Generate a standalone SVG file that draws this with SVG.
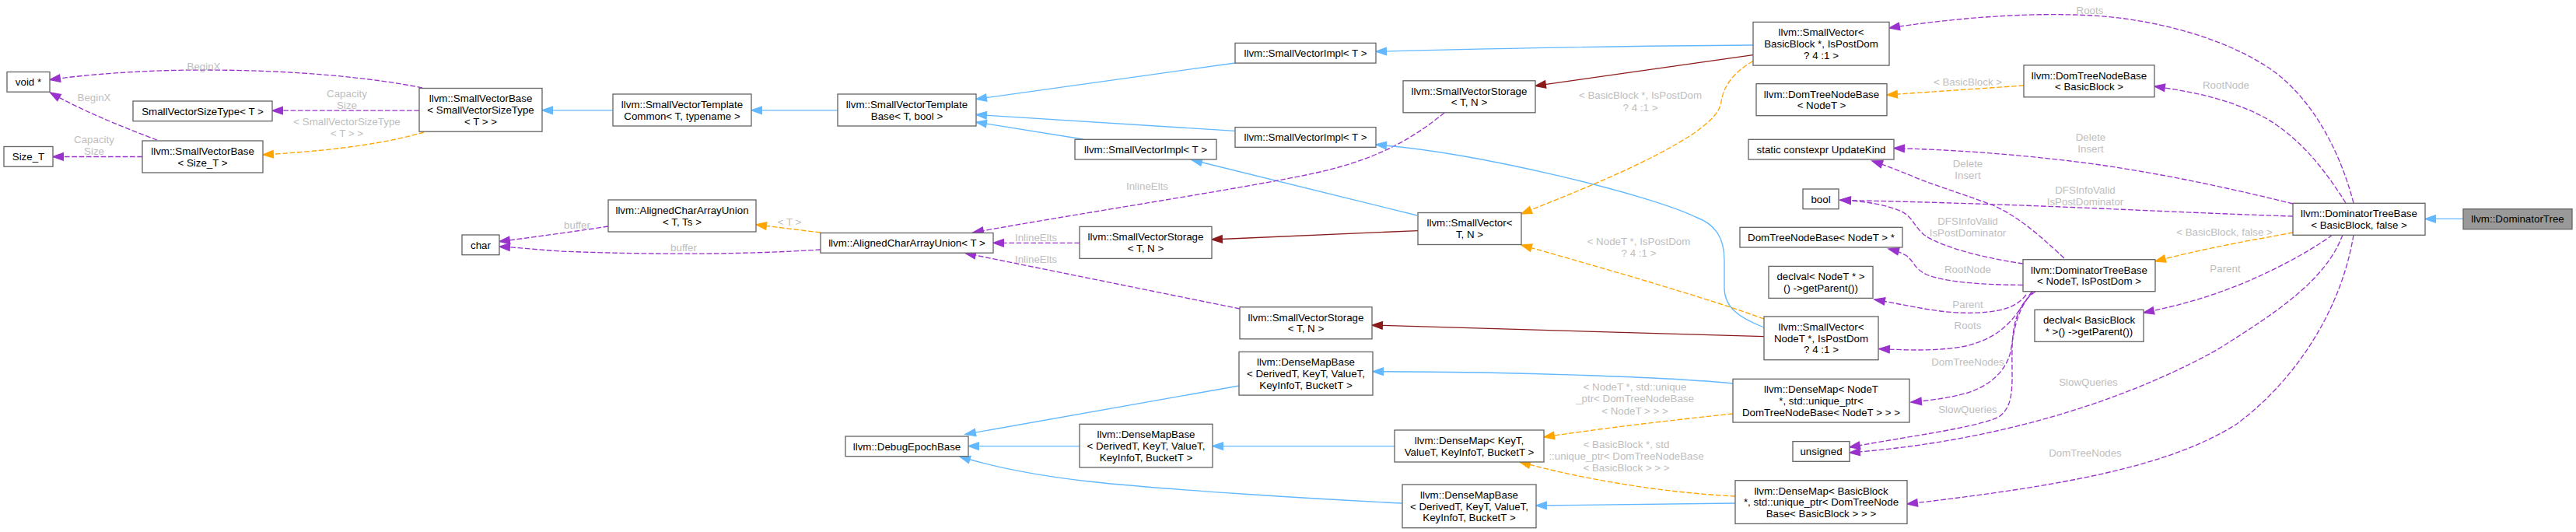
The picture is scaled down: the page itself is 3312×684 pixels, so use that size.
<svg xmlns="http://www.w3.org/2000/svg" width="3312" height="684" viewBox="0 0 3312 684">
<defs>
<style>
text{font-family:"Liberation Sans",Arial,Helvetica,sans-serif;font-size:13.33px;text-anchor:middle;fill:#000}
.nd rect{fill:#fff;stroke:#666;stroke-width:1.33}
.nd rect.focus{fill:#999}
.lb{fill:#bebebe}
.e{fill:none;stroke-width:1.33}
.b{stroke:#63b8ff;marker-end:url(#mb)}
.p{stroke:#9a32cd;stroke-dasharray:6.67,2.67;marker-end:url(#mp)}
.o{stroke:#ffa500;stroke-dasharray:6.67,2.67;marker-end:url(#mo)}
.r{stroke:#8b1a1a;marker-end:url(#mr)}
</style>
<marker id="mb" markerWidth="14" markerHeight="10" refX="13.3" refY="4.7" orient="auto" markerUnits="userSpaceOnUse" overflow="visible"><path d="M0,0 L13.3,4.7 L0,9.4 z" fill="#63b8ff" stroke="#63b8ff" stroke-width="1.33"/></marker>
<marker id="mp" markerWidth="14" markerHeight="10" refX="13.3" refY="4.7" orient="auto" markerUnits="userSpaceOnUse" overflow="visible"><path d="M0,0 L13.3,4.7 L0,9.4 z" fill="#9a32cd" stroke="#9a32cd" stroke-width="1.33"/></marker>
<marker id="mo" markerWidth="14" markerHeight="10" refX="13.3" refY="4.7" orient="auto" markerUnits="userSpaceOnUse" overflow="visible"><path d="M0,0 L13.3,4.7 L0,9.4 z" fill="#ffa500" stroke="#ffa500" stroke-width="1.33"/></marker>
<marker id="mr" markerWidth="14" markerHeight="10" refX="13.3" refY="4.7" orient="auto" markerUnits="userSpaceOnUse" overflow="visible"><path d="M0,0 L13.3,4.7 L0,9.4 z" fill="#8b1a1a" stroke="#8b1a1a" stroke-width="1.33"/></marker>
</defs>
<rect width="3312" height="684" fill="#fff"/>

<g id="edges">
<path class="e p" d="M543,113 C480,100 380,90 262,90 C180,90 110,96 64,102.5"/>
<path class="e p" d="M202,180 C170,168 110,145 64.5,119"/>
<path class="e p" d="M539,142.2 L350,142.2"/>
<path class="e o" d="M545,170 C500,183 440,193 338,199"/>
<path class="e p" d="M183,201.5 L68,201.5"/>
<path class="e b" d="M788,141.8 L697,141.8"/>
<path class="e b" d="M1077,141.8 L966,141.8"/>
<path class="e p" d="M782,291 C750,296 700,303 642,310.6"/>
<path class="e p" d="M1055,321 C960,327 850,328 720,323 C690,321 665,318 642,317"/>
<path class="e o" d="M1055,299 L972,288.8"/>
<path class="e b" d="M1588,81 L1255,127.4"/>
<path class="e b" d="M1588,168.4 L1255,147.4"/>
<path class="e b" d="M1392.5,179 L1255,157"/>
<path class="e b" d="M1822,277 L1532,205.5"/>
<path class="e p" d="M1857,145 C1820,175 1780,200 1710,218 C1640,236 1400,272 1251,299"/>
<path class="e p" d="M1388,312.3 L1277,312.3"/>
<path class="e p" d="M1594,397 L1241,325.5"/>
<path class="e r" d="M1823,296.6 L1558,308"/>
<path class="e b" d="M1593,496 L1241,558.4"/>
<path class="e b" d="M1388,573.6 L1245,573.6"/>
<path class="e b" d="M1803,647 C1700,642 1500,630 1400,619 C1320,610 1270,598 1234,587"/>
<path class="e b" d="M2254,58 C2100,59 1900,63 1769,66.3"/>
<path class="e r" d="M2254,70.7 L1974,110.4"/>
<path class="e b" d="M2268,421 C2235,408 2217,395 2217,370 L2217,335 C2217,305 2205,288 2180,279 C2120,250 1900,196 1769,186"/>
<path class="e o" d="M2254,78.5 C2225,95 2215,115 2213,131 C2210,148 2195,158 2180,170 C2120,210 2030,245 1956,275"/>
<path class="e o" d="M2268,410 C2200,385 2080,350 1956,315"/>
<path class="e r" d="M2268,432.7 L1764,418"/>
<path class="e b" d="M2228,493 C2150,485 1950,478 1765,477.7"/>
<path class="e b" d="M1793,573.6 L1559,573.6"/>
<path class="e b" d="M2231,647 L1975,650"/>
<path class="e o" d="M2228,532 C2150,540 2050,552 1985,562"/>
<path class="e o" d="M2231,638 C2150,634 2050,620 1954,594"/>
<path class="e o" d="M2602,110 L2426,122"/>
<path class="e p" d="M2654,332 C2620,300 2590,275 2560,263 C2520,248 2480,236 2460,227 C2440,219 2425,213 2407,207"/>
<path class="e p" d="M2601,339 C2560,333 2500,320 2474,302 C2460,290 2460,280 2445,272 C2425,263 2400,259 2366,257"/>
<path class="e p" d="M2601,366.5 C2540,366 2500,362 2477,353 C2460,345 2460,334 2450,328 C2442,324 2436,322 2428,320"/>
<path class="e p" d="M2605,379 C2595,392 2580,400 2545,402 C2500,404 2470,396 2410,385"/>
<path class="e p" d="M2612,375 C2590,410 2575,433 2527,445 C2490,452 2450,450 2416,448.5"/>
<path class="e p" d="M2614,375 C2595,395 2590,420 2586,447 C2582,475 2560,495 2530,505 C2505,512 2480,515 2457,517"/>
<path class="e p" d="M2617,375 C2592,392 2588,420 2587,447 C2586,490 2592,520 2570,536 C2540,550 2460,560 2378,575"/>
<path class="e p" d="M3026,261 C3010,200 2980,140 2934,100 C2880,55 2780,25 2690,20 C2600,15 2500,25 2429,36"/>
<path class="e p" d="M3016,261 C2990,220 2960,180 2915,153 C2870,128 2820,118 2770,111"/>
<path class="e p" d="M2948,262 C2880,245 2790,225 2700,212 C2600,198 2500,192 2435,190.6"/>
<path class="e p" d="M2948,278 C2850,275 2750,270 2650,266 C2550,262 2450,259 2366,257.4"/>
<path class="e o" d="M2948,299 C2900,308 2830,320 2771,336"/>
<path class="e p" d="M2999,302 C2960,330 2900,360 2850,377 C2815,389 2790,395 2756,402"/>
<path class="e p" d="M3012,302 C2990,360 2930,400 2850,450 C2760,500 2600,565 2378,582"/>
<path class="e p" d="M3026,302 C3010,400 2950,490 2876,545 C2790,600 2650,625 2452,648"/>
<path class="e b" d="M3167,281.4 L3118,281.4"/>

<text class="lb" x="262" y="89.6">BeginX</text>
<text class="lb" x="121" y="130.2">BeginX</text>
<text class="lb" x="446" y="125.4">Capacity</text>
<text class="lb" x="446" y="139.8">Size</text>
<text class="lb" x="446" y="160.8">&lt; SmallVectorSizeType</text>
<text class="lb" x="446" y="175.6">&lt; T &gt; &gt;</text>
<text class="lb" x="121" y="184.3">Capacity</text>
<text class="lb" x="121" y="198.7">Size</text>
<text class="lb" x="742" y="293.6">buffer</text>
<text class="lb" x="879" y="323.1">buffer</text>
<text class="lb" x="1015" y="290.3">&lt; T &gt;</text>
<text class="lb" x="1475" y="243.6">InlineElts</text>
<text class="lb" x="1332" y="310">InlineElts</text>
<text class="lb" x="1332" y="337.9">InlineElts</text>
<text class="lb" x="2109" y="126.6">&lt; BasicBlock *, IsPostDom</text>
<text class="lb" x="2109" y="142.6">? 4 :1 &gt;</text>
<text class="lb" x="2107" y="314.6">&lt; NodeT *, IsPostDom</text>
<text class="lb" x="2107" y="330">? 4 :1 &gt;</text>
<text class="lb" x="2102" y="501.6">&lt; NodeT *, std::unique</text>
<text class="lb" x="2102" y="517.2">_ptr&lt; DomTreeNodeBase</text>
<text class="lb" x="2102" y="532.6">&lt; NodeT &gt; &gt; &gt;</text>
<text class="lb" x="2091" y="575.9">&lt; BasicBlock *, std</text>
<text class="lb" x="2091" y="590.9">::unique_ptr&lt; DomTreeNodeBase</text>
<text class="lb" x="2091" y="606.2">&lt; BasicBlock &gt; &gt; &gt;</text>
<text class="lb" x="2530" y="110.2">&lt; BasicBlock &gt;</text>
<text class="lb" x="2687" y="17.6">Roots</text>
<text class="lb" x="2862" y="113.6">RootNode</text>
<text class="lb" x="2688" y="180.8">Delete</text>
<text class="lb" x="2688" y="195.6">Insert</text>
<text class="lb" x="2681" y="248.9">DFSInfoValid</text>
<text class="lb" x="2681" y="263.7">IsPostDominator</text>
<text class="lb" x="2860" y="303">&lt; BasicBlock, false &gt;</text>
<text class="lb" x="2861" y="349.6">Parent</text>
<text class="lb" x="2685" y="495.8">SlowQueries</text>
<text class="lb" x="2681" y="587">DomTreeNodes</text>
<text class="lb" x="2530" y="215.3">Delete</text>
<text class="lb" x="2530" y="230.1">Insert</text>
<text class="lb" x="2530" y="289">DFSInfoValid</text>
<text class="lb" x="2530" y="303.8">IsPostDominator</text>
<text class="lb" x="2530" y="351">RootNode</text>
<text class="lb" x="2530" y="396">Parent</text>
<text class="lb" x="2530" y="423.4">Roots</text>
<text class="lb" x="2530" y="470">DomTreeNodes</text>
<text class="lb" x="2530" y="531.1">SlowQueries</text>
</g>

<g id="void_ptr" class="nd"><rect x="9" y="92.5" width="55" height="25.7"/><text x="36.5" y="110">void *</text></g>
<g id="svsizetype" class="nd"><rect x="171" y="130" width="179" height="25.7"/><text x="260.5" y="147.5">SmallVectorSizeType&lt; T &gt;</text></g>
<g id="size_t" class="nd"><rect x="5" y="188.5" width="63" height="25.7"/><text x="36.5" y="206">Size_T</text></g>
<g id="svbase_size" class="nd"><rect x="183" y="181" width="155" height="41"/><text x="260.5" y="198.8">llvm::SmallVectorBase</text><text x="260.5" y="213.5">&lt; Size_T &gt;</text></g>
<g id="svbase_svst" class="nd"><rect x="539" y="113.5" width="158" height="55.7"/><text x="618" y="131.3">llvm::SmallVectorBase</text><text x="618" y="146">&lt; SmallVectorSizeType</text><text x="618" y="160.7">&lt; T &gt; &gt;</text></g>
<g id="svtc" class="nd"><rect x="788" y="121" width="178" height="41"/><text x="877" y="138.8">llvm::SmallVectorTemplate</text><text x="877" y="153.5">Common&lt; T, typename &gt;</text></g>
<g id="acau_tts" class="nd"><rect x="782" y="257" width="190" height="41"/><text x="877" y="274.8">llvm::AlignedCharArrayUnion</text><text x="877" y="289.5">&lt; T, Ts &gt;</text></g>
<g id="char" class="nd"><rect x="594" y="302" width="48" height="25.7"/><text x="618" y="319.5">char</text></g>
<g id="svtbase" class="nd"><rect x="1077" y="121" width="178" height="41"/><text x="1166" y="138.8">llvm::SmallVectorTemplate</text><text x="1166" y="153.5">Base&lt; T, bool &gt;</text></g>
<g id="acau_t" class="nd"><rect x="1055" y="299.5" width="222" height="25.7"/><text x="1166" y="317">llvm::AlignedCharArrayUnion&lt; T &gt;</text></g>
<g id="svimpl1" class="nd"><rect x="1588" y="55.4" width="181" height="25.7"/><text x="1678.5" y="72.9">llvm::SmallVectorImpl&lt; T &gt;</text></g>
<g id="svimpl2" class="nd"><rect x="1588" y="163.6" width="181" height="25.7"/><text x="1678.5" y="181.1">llvm::SmallVectorImpl&lt; T &gt;</text></g>
<g id="svimpl3" class="nd"><rect x="1382" y="179.3" width="182" height="25.7"/><text x="1473" y="196.8">llvm::SmallVectorImpl&lt; T &gt;</text></g>
<g id="svstorage_mid" class="nd"><rect x="1388" y="291.4" width="170" height="41"/><text x="1473" y="309.2">llvm::SmallVectorStorage</text><text x="1473" y="323.9">&lt; T, N &gt;</text></g>
<g id="svstorage_top" class="nd"><rect x="1804" y="103.8" width="170" height="41"/><text x="1889" y="121.6">llvm::SmallVectorStorage</text><text x="1889" y="136.3">&lt; T, N &gt;</text></g>
<g id="svstorage_low" class="nd"><rect x="1594" y="394.8" width="170" height="41"/><text x="1679" y="412.6">llvm::SmallVectorStorage</text><text x="1679" y="427.3">&lt; T, N &gt;</text></g>
<g id="smallvector_tn" class="nd"><rect x="1823" y="273.5" width="133" height="41"/><text x="1889.5" y="291.3">llvm::SmallVector&lt;</text><text x="1889.5" y="306">T, N &gt;</text></g>
<g id="densemapbase_top" class="nd"><rect x="1593" y="452.4" width="172" height="55.7"/><text x="1679" y="470.2">llvm::DenseMapBase</text><text x="1679" y="484.9">&lt; DerivedT, KeyT, ValueT,</text><text x="1679" y="499.6">KeyInfoT, BucketT &gt;</text></g>
<g id="debugepochbase" class="nd"><rect x="1087" y="561" width="158" height="25.7"/><text x="1166" y="578.5">llvm::DebugEpochBase</text></g>
<g id="densemapbase_mid" class="nd"><rect x="1388" y="545.3" width="171" height="55.7"/><text x="1473.5" y="563.1">llvm::DenseMapBase</text><text x="1473.5" y="577.8">&lt; DerivedT, KeyT, ValueT,</text><text x="1473.5" y="592.5">KeyInfoT, BucketT &gt;</text></g>
<g id="densemapbase_bot" class="nd"><rect x="1803" y="623" width="172" height="55.7"/><text x="1889" y="640.8">llvm::DenseMapBase</text><text x="1889" y="655.5">&lt; DerivedT, KeyT, ValueT,</text><text x="1889" y="670.2">KeyInfoT, BucketT &gt;</text></g>
<g id="densemap_keyt" class="nd"><rect x="1793" y="553" width="192" height="41"/><text x="1889" y="570.8">llvm::DenseMap&lt; KeyT,</text><text x="1889" y="585.5">ValueT, KeyInfoT, BucketT &gt;</text></g>
<g id="smallvector_bb" class="nd"><rect x="2254" y="28.4" width="175" height="55.7"/><text x="2341.5" y="46.2">llvm::SmallVector&lt;</text><text x="2341.5" y="60.9">BasicBlock *, IsPostDom</text><text x="2341.5" y="75.6">? 4 :1 &gt;</text></g>
<g id="domtreenodebase_nodet" class="nd"><rect x="2258" y="107.7" width="168" height="41"/><text x="2342" y="125.5">llvm::DomTreeNodeBase</text><text x="2342" y="140.2">&lt; NodeT &gt;</text></g>
<g id="domtreenodebase_bb" class="nd"><rect x="2602" y="83.8" width="168" height="41"/><text x="2686" y="101.6">llvm::DomTreeNodeBase</text><text x="2686" y="116.3">&lt; BasicBlock &gt;</text></g>
<g id="updatekind" class="nd"><rect x="2248" y="179.3" width="187" height="25.7"/><text x="2341.5" y="196.8">static constexpr UpdateKind</text></g>
<g id="bool" class="nd"><rect x="2318" y="243" width="46" height="25.7"/><text x="2341" y="260.5">bool</text></g>
<g id="domtreenodebase_ptr" class="nd"><rect x="2237" y="292.3" width="209" height="25.7"/><text x="2341.5" y="309.8">DomTreeNodeBase&lt; NodeT &gt; *</text></g>
<g id="declval_nodet" class="nd"><rect x="2274" y="342.4" width="134" height="41"/><text x="2341" y="360.2">declval&lt; NodeT * &gt;</text><text x="2341" y="374.9">() -&gt;getParent())</text></g>
<g id="smallvector_nodet" class="nd"><rect x="2268" y="407" width="147" height="55.7"/><text x="2341.5" y="424.8">llvm::SmallVector&lt;</text><text x="2341.5" y="439.5">NodeT *, IsPostDom</text><text x="2341.5" y="454.2">? 4 :1 &gt;</text></g>
<g id="densemap_nodet" class="nd"><rect x="2228" y="487.3" width="227" height="55.7"/><text x="2341.5" y="505.1">llvm::DenseMap&lt; NodeT</text><text x="2341.5" y="519.8">*, std::unique_ptr&lt;</text><text x="2341.5" y="534.5">DomTreeNodeBase&lt; NodeT &gt; &gt; &gt;</text></g>
<g id="unsigned" class="nd"><rect x="2305" y="567.6" width="73" height="25.7"/><text x="2341.5" y="585.1">unsigned</text></g>
<g id="densemap_bb" class="nd"><rect x="2231" y="617.7" width="221" height="55.7"/><text x="2341.5" y="635.5">llvm::DenseMap&lt; BasicBlock</text><text x="2341.5" y="650.2">*, std::unique_ptr&lt; DomTreeNode</text><text x="2341.5" y="664.9">Base&lt; BasicBlock &gt; &gt; &gt;</text></g>
<g id="dominatortreebase_nodet" class="nd"><rect x="2601" y="333.7" width="170" height="41"/><text x="2686" y="351.5">llvm::DominatorTreeBase</text><text x="2686" y="366.2">&lt; NodeT, IsPostDom &gt;</text></g>
<g id="declval_bb" class="nd"><rect x="2616" y="398.3" width="140" height="41"/><text x="2686" y="416.1">declval&lt; BasicBlock</text><text x="2686" y="430.8">* &gt;() -&gt;getParent())</text></g>
<g id="dominatortreebase_bb" class="nd"><rect x="2948" y="261.3" width="170" height="41"/><text x="3033" y="279.1">llvm::DominatorTreeBase</text><text x="3033" y="293.8">&lt; BasicBlock, false &gt;</text></g>
<g id="dominatortree" class="nd"><rect class="focus" x="3167" y="268.7" width="140" height="26"/><text x="3237" y="286.3">llvm::DominatorTree</text></g>
</svg>
